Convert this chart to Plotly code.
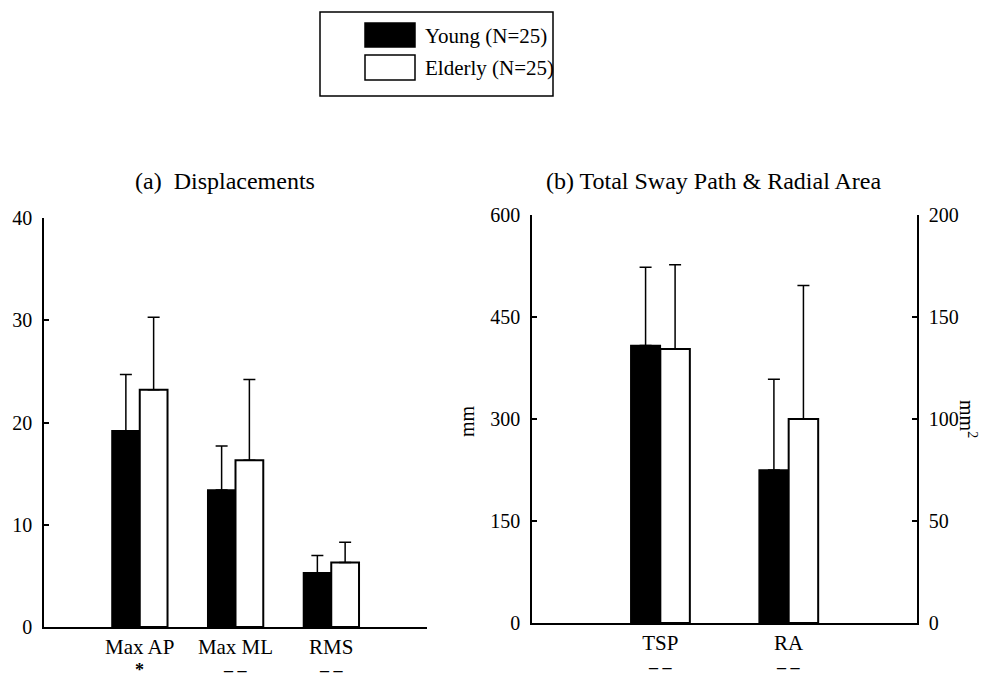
import plotly.graph_objects as go

# ---------------- data ----------------
series_names = ["Young (N=25)", "Elderly (N=25)"]

cats_a = ["Max AP", "Max ML", "RMS"]
young_a = [19.2, 13.4, 5.3]
young_a_sd = [5.5, 4.3, 1.7]
elderly_a = [23.2, 16.3, 6.3]
elderly_a_sd = [7.1, 7.9, 2.0]
sig_a = ["*", "– –", "– –"]

cats_b = ["TSP", "RA"]
young_tsp = [408]
young_tsp_sd = [115]
elderly_tsp = [403]
elderly_tsp_sd = [124]
young_ra = [75]
young_ra_sd = [44.5]
elderly_ra = [100]
elderly_ra_sd = [65.5]
sig_b = ["– –", "– –"]

title_a = "(a)  Displacements"
title_b = "(b) Total Sway Path & Radial Area"

# ---------------- helpers ----------------
W, H = 996, 682
OFF = 8  # page body margin
def px(x):
    return (x - OFF) / W
def py(y):
    return 1 - (y - OFF) / H

FONT = "Liberation Serif"
fill_colors = ["black", "white"]

fig = go.Figure()

def err(sd):
    return dict(type="data", array=sd, arrayminus=[0] * len(sd), symmetric=False,
                color="black", thickness=1.5, width=6, visible=True)

wa = 0.29
fig.add_trace(go.Bar(x=cats_a, y=young_a, error_y=err(young_a_sd), width=wa, offset=-wa,
                     marker=dict(color=fill_colors[0], line=dict(color="black", width=1.5)),
                     xaxis="x", yaxis="y", name=series_names[0], showlegend=False))
fig.add_trace(go.Bar(x=cats_a, y=elderly_a, error_y=err(elderly_a_sd), width=wa, offset=0,
                     marker=dict(color=fill_colors[1], line=dict(color="black", width=2)),
                     xaxis="x", yaxis="y", name=series_names[1], showlegend=False))

wb = 0.23
fig.add_trace(go.Bar(x=[cats_b[0]], y=young_tsp, error_y=err(young_tsp_sd), width=wb, offset=-wb,
                     marker=dict(color=fill_colors[0], line=dict(color="black", width=1.5)),
                     xaxis="x2", yaxis="y2", name=series_names[0], showlegend=False))
fig.add_trace(go.Bar(x=[cats_b[0]], y=elderly_tsp, error_y=err(elderly_tsp_sd), width=wb, offset=0,
                     marker=dict(color=fill_colors[1], line=dict(color="black", width=2)),
                     xaxis="x2", yaxis="y2", name=series_names[1], showlegend=False))
fig.add_trace(go.Bar(x=[cats_b[1]], y=young_ra, error_y=err(young_ra_sd), width=wb, offset=-wb,
                     marker=dict(color=fill_colors[0], line=dict(color="black", width=1.5)),
                     xaxis="x2", yaxis="y3", name=series_names[0], showlegend=False))
fig.add_trace(go.Bar(x=[cats_b[1]], y=elderly_ra, error_y=err(elderly_ra_sd), width=wb, offset=0,
                     marker=dict(color=fill_colors[1], line=dict(color="black", width=2)),
                     xaxis="x2", yaxis="y3", name=series_names[1], showlegend=False))

tickfont = dict(family=FONT, size=20, color="black")
catfont = dict(family=FONT, size=21, color="black")
axcommon = dict(showline=True, linecolor="black", linewidth=1.5, showgrid=False,
                zeroline=False, automargin=False)

fig.update_layout(
    width=W, height=H,
    margin=dict(l=0, r=0, t=0, b=0, pad=0, autoexpand=False),
    paper_bgcolor="white", plot_bgcolor="white",
    barmode="overlay",
    showlegend=False,
    xaxis=dict(domain=[px(44), px(427)], anchor="y", type="category",
               categoryorder="array", categoryarray=cats_a,
               range=[-1, 3], ticks="", tickfont=catfont, **axcommon),
    yaxis=dict(domain=[py(627), py(218)], anchor="x", range=[0, 40], dtick=10,
               ticks="inside", ticklen=5, tickwidth=1.5, tickcolor="black",
               tickfont=tickfont, ticklabelstandoff=6, **axcommon),
    xaxis2=dict(domain=[px(532), px(917)], anchor="y2", type="category",
                categoryorder="array", categoryarray=cats_b,
                range=[-1, 2], ticks="", tickfont=catfont, **axcommon),
    yaxis2=dict(domain=[py(623), py(215)], anchor="x2", range=[0, 600], dtick=150,
                ticks="inside", ticklen=5, tickwidth=1.5, tickcolor="black",
                tickfont=tickfont, ticklabelstandoff=6, **axcommon),
    yaxis3=dict(overlaying="y2", anchor="x2", side="right", range=[0, 200], dtick=50,
                ticks="inside", ticklen=5, tickwidth=1.5, tickcolor="black",
                tickfont=tickfont, ticklabelstandoff=6, **axcommon),
)

def note(text, x, y, size, xref="paper", yref="paper", angle=0, xanchor="center"):
    return dict(text=text, x=x, y=y, xref=xref, yref=yref, textangle=angle,
                xanchor=xanchor, yanchor="middle", showarrow=False,
                font=dict(family=FONT, size=size, color="black"))

ann = []
ann.append(note(title_a, px(225), py(181), 24))
ann.append(note(title_b, px(713), py(181), 24))
ann.append(note("mm", px(467), py(421), 20, angle=-90))
ann.append(note("mm<sup>2</sup>", px(968), py(419), 20, angle=90))
for i, s in enumerate(sig_a):
    ann.append(note("<b>" + s + "</b>", i, py(670), 18, xref="x"))
for i, s in enumerate(sig_b):
    ann.append(note("<b>" + s + "</b>", i, py(667), 18, xref="x2"))
legend_rows_y = [36, 68]
for name, yy in zip(series_names, legend_rows_y):
    ann.append(note(name, px(423), py(yy), 21, xanchor="left"))
fig.update_layout(annotations=ann)

shapes = []
shapes.append(dict(type="rect", xref="paper", yref="paper", x0=px(320), x1=px(553), y0=py(96), y1=py(12),
                   line=dict(color="black", width=1.5), fillcolor="rgba(0,0,0,0)"))
swatches = [(23, 47), (55, 80)]
for col, (t, b) in zip(fill_colors, swatches):
    shapes.append(dict(type="rect", xref="paper", yref="paper", x0=px(365), x1=px(415), y0=py(b), y1=py(t),
                       line=dict(color="black", width=1.5), fillcolor=col))
fig.update_layout(shapes=shapes)

fig.write_html("out.html")
